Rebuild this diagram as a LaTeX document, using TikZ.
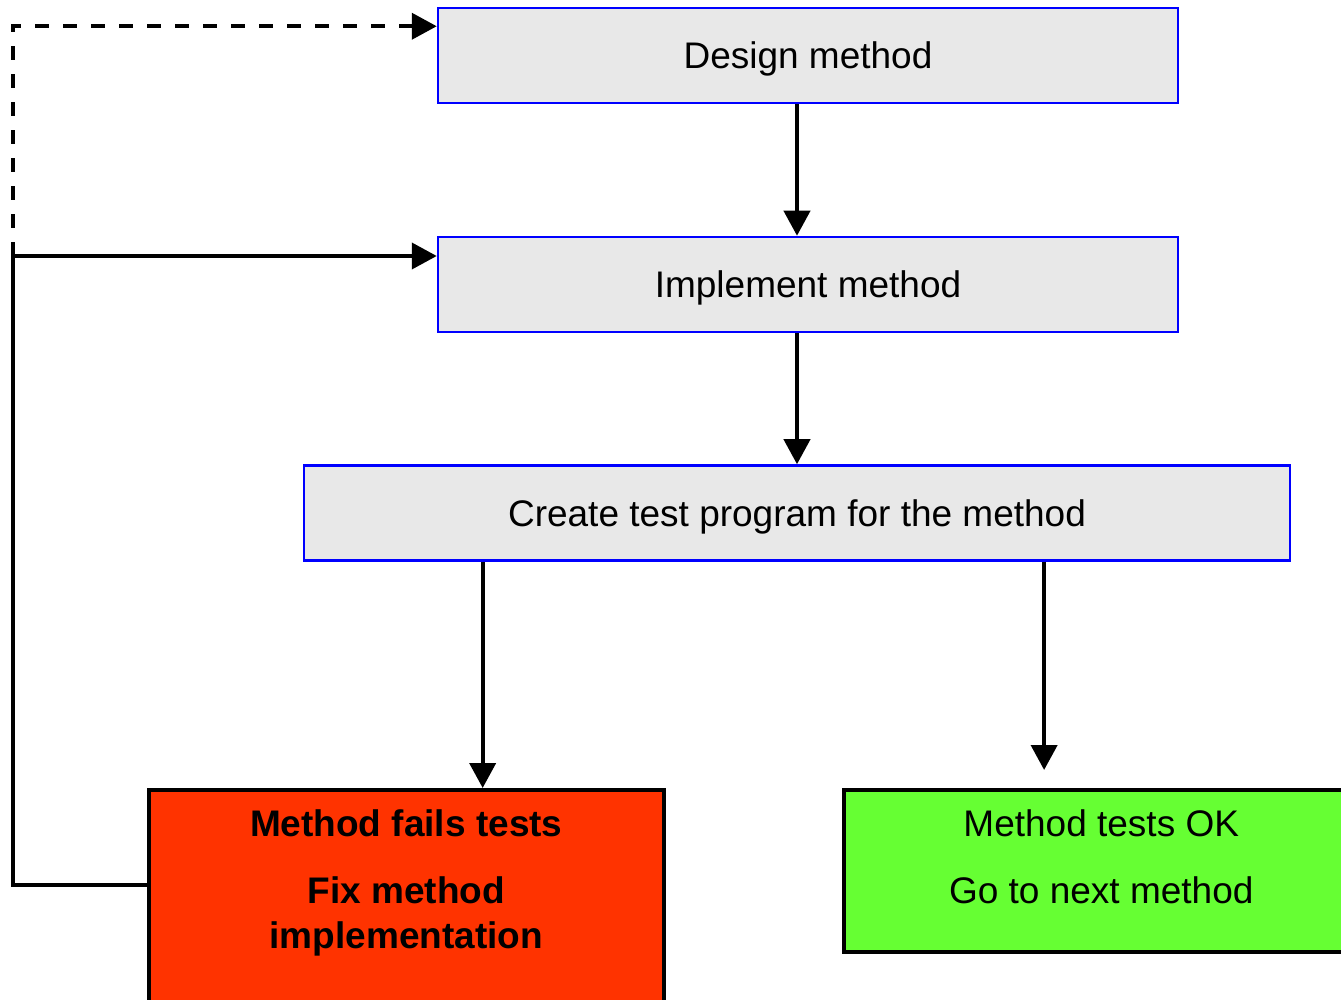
\documentclass[tikz,border=0pt]{standalone}
\usepackage{fontspec}
\setmainfont{Liberation Sans}
\usepackage{tikz}
\usetikzlibrary{arrows.meta,positioning,calc}
\definecolor{boxgray}{HTML}{E8E8E8}
\definecolor{boxblue}{HTML}{0000FF}
\definecolor{failred}{HTML}{FF3300}
\definecolor{passgreen}{HTML}{66FF33}

\begin{document}
\begin{tikzpicture}[x=0.5pt,y=-0.5pt,
  every node/.style={font=\fontsize{18.5pt}{22.5pt}\selectfont},
  stage/.style={rectangle,draw=boxblue,line width=1.25pt,fill=boxgray,minimum height=47.5pt,inner sep=0pt,text depth=0pt},
  result/.style={rectangle,draw=black,line width=1.75pt,anchor=north west,minimum width=257.5pt,inner xsep=0pt,inner ysep=10pt,text height=13.5pt},
  arrow/.style={-{Triangle[length=12.5pt,width=13pt]},line width=2pt,color=black}
]
\useasboundingbox (0,0) rectangle (1341,1000);

\node[stage,minimum width=370pt] (design) at (808,55.5) {Design method};
\node[stage,minimum width=370pt] (impl) at (808,284.5) {Implement method};
\node[stage,minimum width=493pt] (create) at (797,513) {Create test program for the method};
\node[result,fill=failred,font=\fontsize{18.5pt}{22.5pt}\selectfont\bfseries,text depth=120pt] (fails) at (147,788)
  {\begin{tabular}[t]{@{}c@{}}Method fails tests\\[11pt]Fix method\\implementation\end{tabular}};
\node[result,fill=passgreen,text depth=47.5pt] (ok) at (842,788)
  {\begin{tabular}[t]{@{}c@{}}Method tests OK\\[11pt]Go to next method\end{tabular}};

\draw[arrow] (design.south -| create.north) -- (impl.north -| create.north);
\draw[arrow] (impl.south -| create.north) -- (create.north);

\coordinate (failsrc) at ($(create.south west)!0.182!(create.south east)$);
\coordinate (oksrc) at ($(create.south west)!0.75!(create.south east)$);
\draw[arrow] (failsrc) -- (failsrc |- fails.north);
\draw[arrow,shorten >=9pt] (oksrc) -- (oksrc |- ok.north);

% loop back from a failed test
\coordinate (back) at (13,256);
\draw[line width=2pt] ([yshift=-48.5pt]fails.north west) -| (back);
\draw[arrow] (back) -- (back -| impl.west);
\draw[arrow,dash pattern=on 7pt off 7pt] (back) |- ($(design.north west)!0.2!(design.south west)$);
\end{tikzpicture}
\end{document}
